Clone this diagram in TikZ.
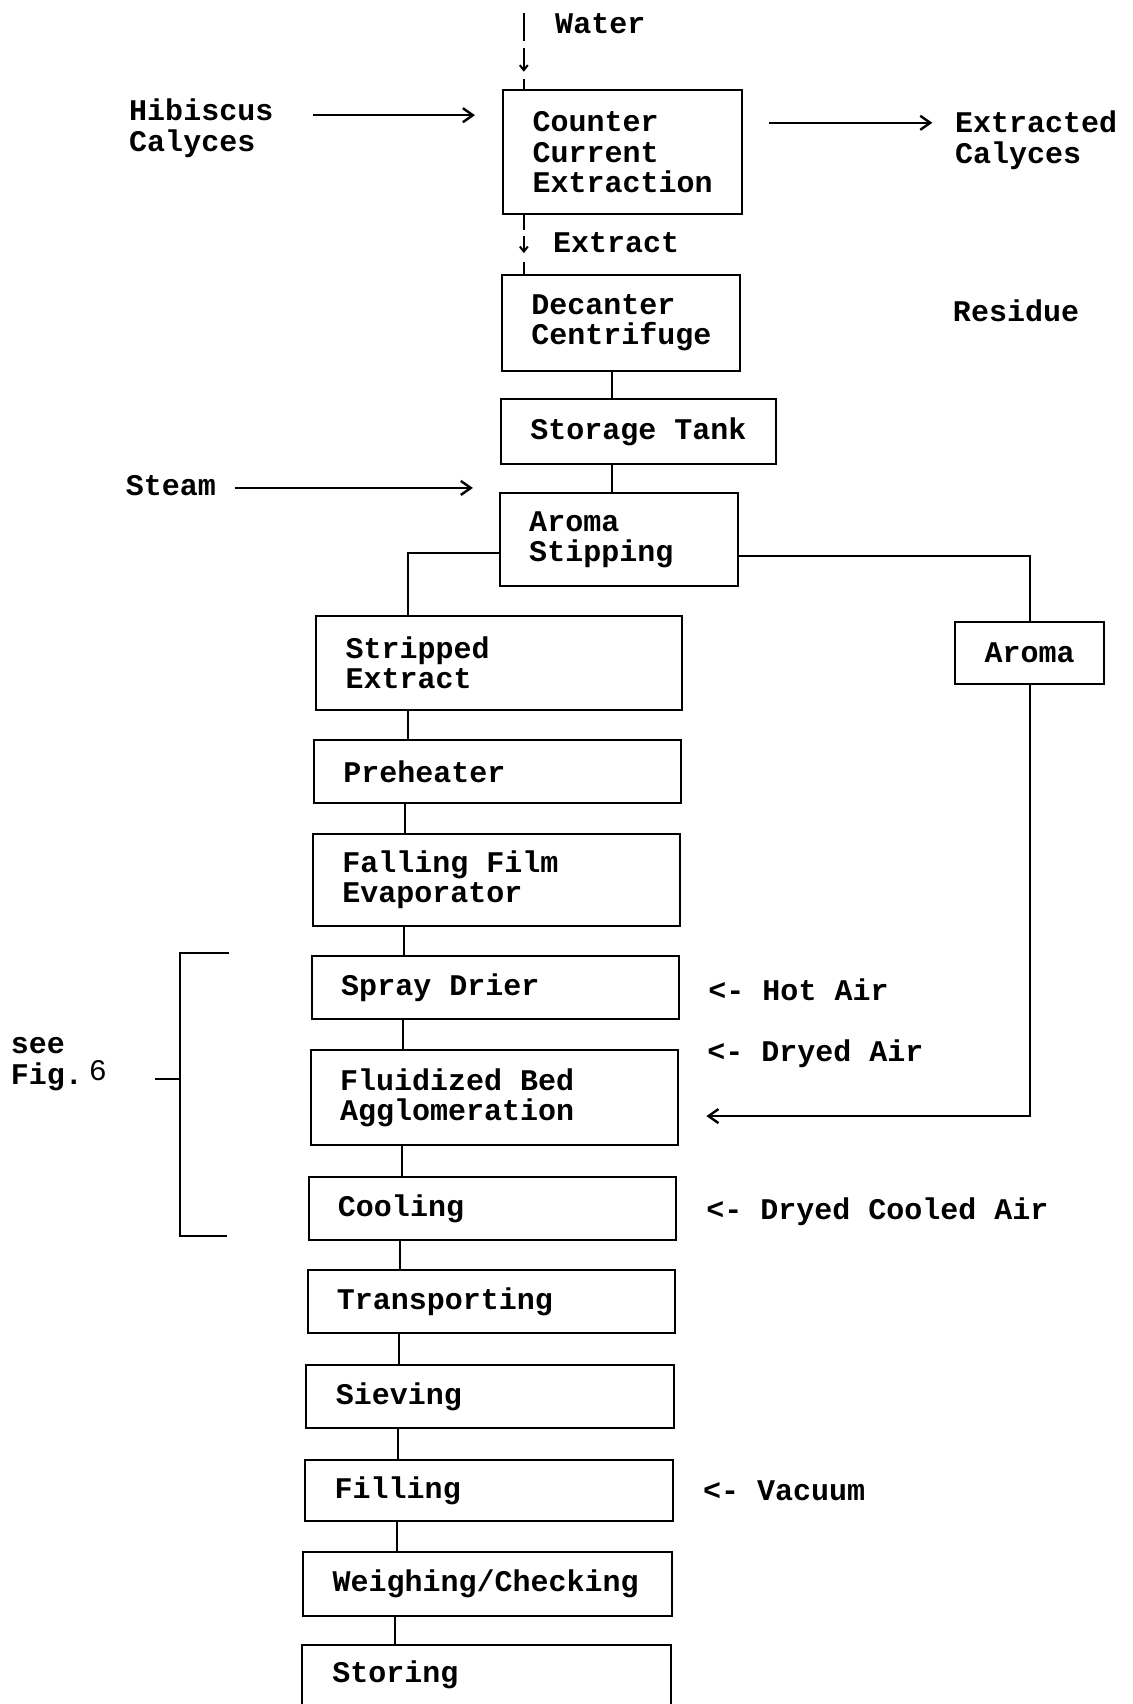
\documentclass[tikz,border=0pt]{standalone}
\usepackage{fontspec}
\newfontfamily\mono{Liberation Mono}
\usetikzlibrary{arrows.meta,calc}
\newcommand\pbox[6]{%
  \node[box, minimum width={(#4-#2)*0.5432pt}, minimum height={(#5-#3)*0.5432pt}] (#1) at ({(#2+#4)/2},{(#3+#5)/2}) {};
  \node[txt, anchor=west] (#1-t) at ($(#1.west)+(27,0)$) {#6};}
\newcommand\chainln[2]{%
  \path ($(#1.south west)+(85,0)$) coordinate (#1-c);
  \draw (#1-c) -- (#1-c |- #2.north);}
\begin{document}
\begin{tikzpicture}[x=0.5432pt, y=-0.5432pt, line width=1pt,
  box/.style={draw, rectangle, inner sep=0pt, line width=1pt},
  txt/.style={font=\mono\bfseries\fontsize{15}{15.2}\selectfont, inner sep=0pt, align=left},
  arr/.style={-{Straight Barb[length=5pt,width=7pt,line width=1.2pt]}},
  sarr/.style={-{Straight Barb[length=2.5pt,width=4pt]}}]
\useasboundingbox (0,0) rectangle (1042,1568);
\clip (0,0) rectangle (1042,1568);
\fill[white] (0,0) rectangle (1042,1568);

% process boxes
\pbox{cce}{463}{83}{683}{197}{Counter\\Current\\Extraction}
\pbox{dec}{462}{253}{681}{341}{Decanter\\Centrifuge}
\pbox{stor}{461}{367}{714}{427}{Storage Tank}
\pbox{ast}{460}{454}{679}{539}{Aroma\\Stipping}
\pbox{se}{291}{567}{628}{653}{Stripped\\Extract}
\pbox{pre}{289}{681}{627}{739}{Preheater}
\pbox{ffe}{288}{767}{626}{852}{Falling Film\\Evaporator}
\pbox{sd}{287}{880}{625}{938}{Spray Drier}
\pbox{fb}{286}{966}{624}{1054}{Fluidized Bed\\Agglomeration}
\pbox{cool}{284}{1083}{622}{1141}{Cooling}
\pbox{tr}{283}{1169}{621}{1227}{Transporting}
\pbox{sie}{282}{1256}{620}{1314}{Sieving}
\pbox{fil}{281}{1343}{619}{1400}{Filling}
\pbox{wc}{279}{1428}{618}{1487}{Weighing/Checking}
\node[box, minimum width={339*0.5432pt}, minimum height={100*0.5432pt}] (sto) at (447.5,1564) {};
\node[txt, anchor=west] (sto-t) at (305,1541) {Storing};
\node[box, minimum width={137*0.5432pt}, minimum height={57*0.5432pt}] (ar) at (947.5,600.5) {};
\node[txt] (ar-t) at (ar) {Aroma};

% side labels
\node[txt, anchor=west] (water) at (510,22) {Water};
\node[txt, anchor=west] (hib) at (118,118) {Hibiscus\\Calyces};
\node[txt, anchor=west] (ext) at (878,129) {Extracted\\Calyces};
\node[txt, anchor=west] (extract) at (508,223) {Extract};
\node[txt, anchor=west] (res) at (876,286) {Residue};
\node[txt, anchor=west] (steam) at (115,447) {Steam};
\node[txt, anchor=west] (hot) at (651,911) {<- Hot Air};
\node[txt, anchor=west] (dry) at (650,970) {<- Dryed Air};
\node[txt, anchor=west] (dca) at (649,1115) {<- Dryed Cooled Air};
\node[txt, anchor=west] (vac) at (646,1372) {<- Vacuum};
\node[txt, anchor=west] (see) at (9,979) {see\\Fig.\kern3pt\raisebox{2pt}{\mdseries 6}};

% water feed
\coordinate (wa) at (482,12);
\draw (wa) -- ($(wa)+(0,26)$);
\draw[sarr] ($(wa)+(0,32)$) -- ($(wa)+(0,54)$);
\draw ($(wa)+(0,61)$) -- (wa |- cce.north);

% extract
\coordinate (ea) at (cce.south -| wa);
\draw (ea) -- ($(ea)+(0,14)$);
\draw[sarr] ($(ea)+(0,19)$) -- ($(ea)+(0,35)$);
\draw ($(ea)+(0,43)$) -- (ea |- dec.north);

% top chain
\coordinate (d1) at (563,0);
\draw (dec.south -| d1) -- (stor.north -| d1);
\draw (stor.south -| d1) -- (ast.north -| d1);

% side arrows
\coordinate (h1) at (288,106);
\draw[arr, shorten >=13.6pt] (h1) -- (h1 -| cce.west);
\coordinate (e1) at (708,113);
\draw[arr, shorten >=10.9pt] (e1) -- (e1 -| ext.west);
\coordinate (s1) at (216,449);
\draw[arr, shorten >=13pt] (s1) -- (s1 -| ast.west);

% aroma stripping branches
\coordinate (asl) at (375,509);
\draw (ast.west |- asl) -- (asl) -- (asl |- se.north);
\coordinate (asr) at (948,512);
\draw (ast.east |- asr) -| (ar.north);
\coordinate (ain) at (650,1027);
\draw[arr] (ar.south) |- (ain);

% main chain
\chainln{se}{pre}
\chainln{pre}{ffe}
\chainln{ffe}{sd}
\chainln{sd}{fb}
\chainln{fb}{cool}
\chainln{cool}{tr}
\chainln{tr}{sie}
\chainln{sie}{fil}
\chainln{fil}{wc}
\chainln{wc}{sto}

% bracket
\coordinate (bt) at (211,877);
\coordinate (bb) at (209,1137);
\coordinate (bm) at (166,993);
\coordinate (btick) at (143,993);
\draw (bt) -- (bt -| bm) -- (bb -| bm) -- (bb);
\draw (btick) -- (bm);
\end{tikzpicture}
\end{document}
